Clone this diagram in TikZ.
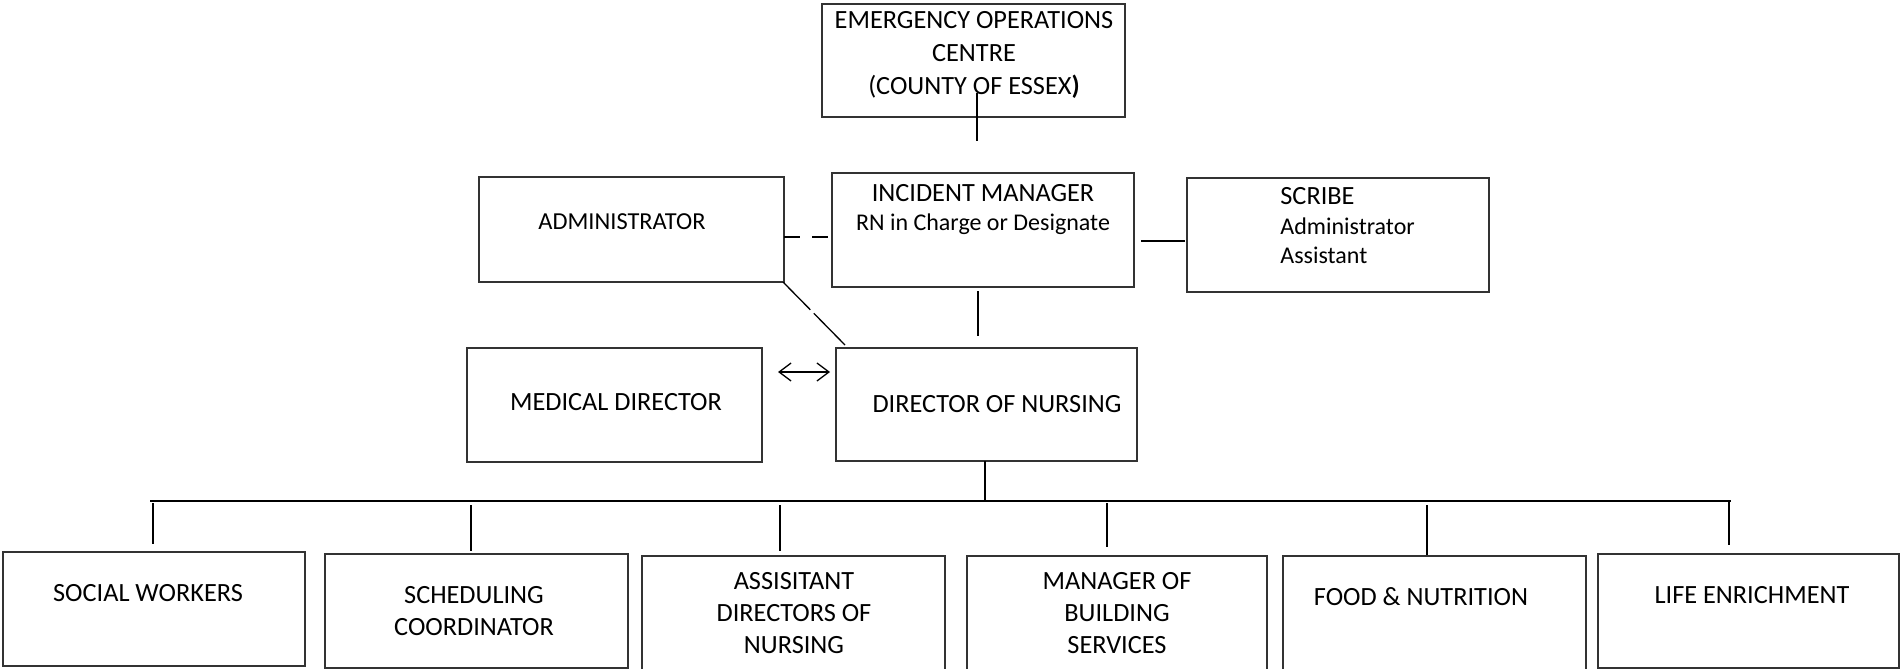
\documentclass[tikz,border=0pt]{standalone}
\usepackage{fontspec}
\setmainfont{Carlito}
\usetikzlibrary{fit,arrows.meta}
\tikzset{
  box/.style={draw=black!80, line width=0.6pt, inner sep=0pt},
  capt/.style={inner sep=0pt, font=\fontsize{13.15}{16}\selectfont, align=center},
  smallt/.style={inner sep=0pt, font=\fontsize{12}{15}\selectfont},
  conn/.style={draw=black, line width=0.65pt},
  heavy/.style={draw=black, line width=1pt},
}
\begin{document}
\begin{tikzpicture}[x=0.5pt,y=-0.5pt]
\useasboundingbox (0,0) rectangle (1900,669);
\clip (0,0) rectangle (1900,669);

% boxes
\node[box, fit={(822,4)(1125,117)}] (eoc) {};
\node[box, fit={(832,173)(1134,287)}] (im) {};
\node[box, fit={(1187,178)(1489,292)}] (scribe) {};
\node[box, fit={(479,177)(784,282)}] (admin) {};
\node[box, fit={(467,348)(762,462)}] (med) {};
\node[box, fit={(836,348)(1137,461)}] (don) {};
\node[box, fit={(3,552)(305,666)}] (b1) {};
\node[box, fit={(325,554)(628,668)}] (b2) {};
\node[box, fit={(642,556)(945,676)}] (b3) {};
\node[box, fit={(967,556)(1267,676)}] (b4) {};
\node[box, fit={(1283,556)(1586,676)}] (b5) {};
\node[box, fit={(1598,554)(1899,668)}] (b6) {};

% texts
\node[capt, font=\fontsize{13.15}{16.5}\selectfont] (eoct) at (974,55) {EMERGENCY OPERATIONS\\CENTRE\\(COUNTY OF ESSEX\textbf{)}};
\node[capt, anchor=base] (imt1) at (983,201.5) {INCIDENT MANAGER};
\node[smallt, anchor=base] (imt2) at (983,230.7) {RN in Charge or Designate};
\node[capt, anchor=base west] (sct1) at (1280,204.5) {SCRIBE};
\node[smallt, anchor=base west] (sct2) at (1280,234.7) {Administrator};
\node[smallt, anchor=base west] (sct3) at (1280,263.7) {Assistant};
\node[capt, font=\fontsize{12.2}{15}\selectfont, anchor=base] (admint) at (622,229.9) {ADMINISTRATOR};
\node[capt, anchor=base] (medt) at (616,410.5) {MEDICAL DIRECTOR};
\node[capt, anchor=base] (dont) at (997,412.5) {DIRECTOR OF NURSING};
\node[capt, anchor=base] (b1t) at (148,601.5) {SOCIAL WORKERS};
\node[capt] (b2t) at (474,611) {SCHEDULING\\COORDINATOR};
\node[capt] (b3t) at (794,613) {ASSISITANT\\DIRECTORS OF\\NURSING};
\node[capt] (b4t) at (1117,613) {MANAGER OF\\BUILDING\\SERVICES};
\node[capt, anchor=base] (b5t) at (1421,605.5) {FOOD \& NUTRITION};
\node[capt, anchor=base] (b6t) at (1752,603.5) {LIFE ENRICHMENT};

% connector ends
\coordinate (e1) at (977,93);   \coordinate (e2) at (977,141);
\coordinate (m1) at (978,291);  \coordinate (m2) at (978,336);
\coordinate (s1) at (1141,241); \coordinate (s2) at (1185,241);
\coordinate (a1) at (784,237);  \coordinate (a2) at (832,237);
\coordinate (d1) at (783,282);  \coordinate (d2) at (845,345);
\coordinate (r1) at (778,372);  \coordinate (r2) at (830,372);
\coordinate (n1) at (985,461);  \coordinate (n2) at (985,502);
\coordinate (busL) at (150,501); \coordinate (busR) at (1731,501);
\coordinate (t1) at (153,503);  \coordinate (u1) at (153,544);
\coordinate (t2) at (471,505);  \coordinate (u2) at (471,551);
\coordinate (t3) at (780,505);  \coordinate (u3) at (780,551);
\coordinate (t4) at (1107,503); \coordinate (u4) at (1107,547);
\coordinate (t5) at (1427,505); \coordinate (u5) at (1427,555);
\coordinate (t6) at (1729,501); \coordinate (u6) at (1729,545);

% connectors
\draw[conn] (e1) -- (e2);
\draw[conn] (m1) -- (m2);
\draw[heavy] (s1) -- (s2);
\draw[heavy, dash pattern=on 8pt off 6pt] (a1) -- (a2);
\draw[conn, dash pattern=on 19.5pt off 2.5pt on 30pt off 5pt] (d1) -- (d2);
\draw[conn, {Straight Barb[length=6pt,width=9pt]}-{Straight Barb[length=6pt,width=9pt]}] (r1) -- (r2);
\draw[conn] (n1) -- (n2);
\draw[heavy] (busL) -- (busR);
\draw[conn] (t1) -- (u1);
\draw[conn] (t2) -- (u2);
\draw[conn] (t3) -- (u3);
\draw[conn] (t4) -- (u4);
\draw[conn] (t5) -- (u5);
\draw[conn] (t6) -- (u6);
\end{tikzpicture}
\end{document}
